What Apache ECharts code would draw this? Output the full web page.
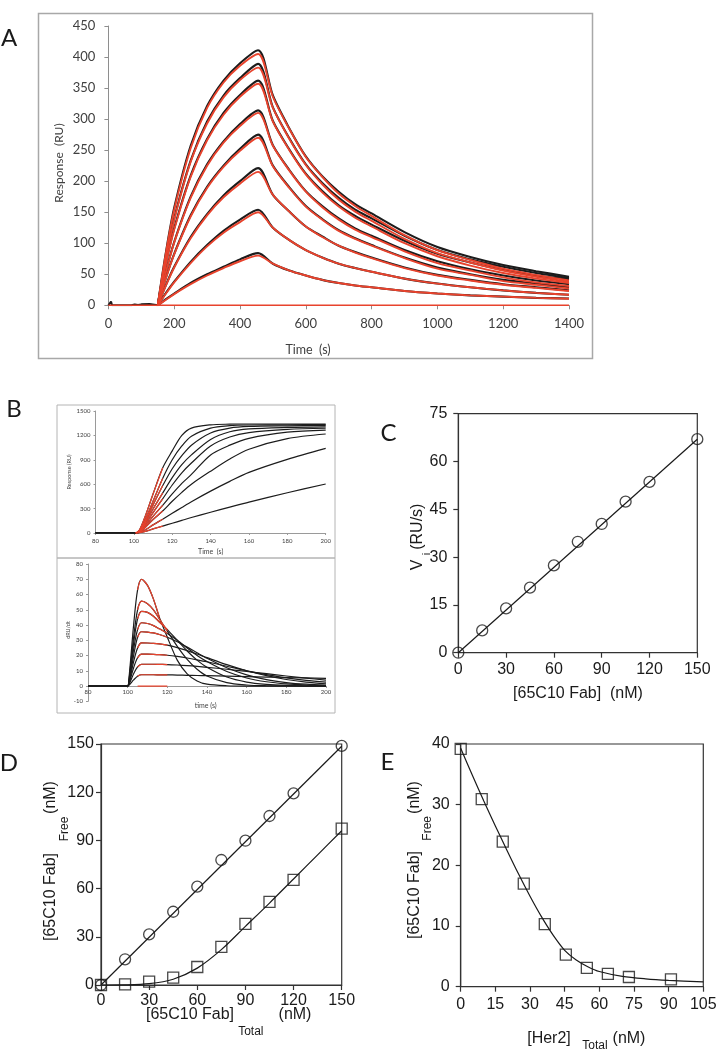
<!DOCTYPE html>
<html><head><meta charset="utf-8">
<script src="https://cdn.jsdelivr.net/npm/echarts@6/dist/echarts.min.js"></script>
<style>html,body{margin:0;padding:0;background:#fff}#c{width:717px;height:1050px}</style>
</head><body><div id="c"></div>
<script>
// ================= DATA =================
// ---- Panel A (SPR sensorgrams) ----
const aXTicks = [0, 200, 400, 600, 800, 1000, 1200, 1400];
const aYTicks = [0, 50, 100, 150, 200, 250, 300, 350, 400, 450];
const aBaseT = [0, 5, 8, 11, 70, 80, 90, 100, 125, 130, 150];
const aBaseV = [0, 0, 6, 0, 0, 1.5, 0.5, 1.5, 2, 0.5, 0];
const aBlankT = [0, 1400];
const aBlankV = [0, 0];
const aAssocT = [150, 175, 200, 250, 300, 350, 400, 455];
const aDissocT = [455, 500, 550, 600, 650, 700, 750, 800, 900, 1000, 1100, 1200, 1300, 1400];
// fitted curves (red)
const aFitAssoc1 = [0, 85, 154, 253, 318, 359, 386, 405];
const aFitAssoc2 = [0, 76, 138, 231, 293, 335, 363, 383];
const aFitAssoc3 = [0, 67, 122, 207, 266, 307, 336, 357];
const aFitAssoc4 = [0, 54, 101, 173, 225, 262, 289, 310];
const aFitAssoc5 = [0, 44, 82, 143, 189, 223, 249, 270];
const aFitAssoc6 = [0, 32, 61, 108, 145, 174, 196, 215];
const aFitAssoc7 = [0, 19, 37, 68, 95, 117, 134, 150];
const aFitAssoc8 = [0, 9, 18, 34, 48, 60, 71, 80];
const aFitDiss1 = [405, 336, 284, 239, 207, 180, 160, 144, 113, 89, 73, 59, 49, 40];
const aFitDiss2 = [383, 318, 268, 226, 195, 170, 151, 136, 107, 84, 69, 56, 46, 38];
const aFitDiss3 = [357, 296, 250, 211, 182, 159, 141, 127, 100, 79, 64, 52, 43, 36];
const aFitDiss4 = [310, 257, 217, 183, 158, 138, 122, 110, 87, 68, 56, 45, 37, 31];
const aFitDiss5 = [270, 224, 189, 159, 138, 120, 107, 96, 76, 59, 49, 39, 33, 27];
const aFitDiss6 = [215, 178, 151, 127, 110, 96, 85, 76, 60, 48, 40, 33, 28, 23];
const aFitDiss7 = [150, 125, 105, 89, 77, 67, 60, 54, 43, 35, 29, 24, 20, 17];
const aFitDiss8 = [80, 67, 56, 48, 41, 36, 32, 29, 23, 19, 16, 14, 12, 10.5];
// measured curves (black)
const aObsAssoc1 = [0, 86, 157, 257, 321, 362, 390, 411];
const aObsAssoc2 = [0, 77, 140, 233, 296, 338, 366, 389];
const aObsAssoc3 = [0, 68, 124, 209, 268, 310, 339, 362];
const aObsAssoc4 = [0, 55, 102, 175, 227, 264, 292, 314];
const aObsAssoc5 = [0, 45, 83, 145, 191, 225, 252, 275];
const aObsAssoc6 = [0, 33, 62, 110, 147, 177, 200, 221];
const aObsAssoc7 = [0, 20, 38, 70, 97, 120, 138, 154];
const aObsAssoc8 = [0, 10, 19, 36, 50, 62, 74, 84];
const aObsDiss1 = [411, 338, 285, 240, 208, 183, 163, 148, 118, 94, 78, 65, 55, 46];
const aObsDiss2 = [389, 319, 269, 227, 197, 173, 154, 140, 112, 89, 74, 62, 52, 44];
const aObsDiss3 = [362, 297, 251, 212, 184, 161, 144, 130, 104, 83, 69, 57, 48, 42];
const aObsDiss4 = [314, 258, 218, 184, 160, 140, 124, 112, 89, 71, 58, 48, 40, 34];
const aObsDiss5 = [275, 225, 190, 160, 139, 121, 108, 97, 77, 61, 50, 41, 35, 29];
const aObsDiss6 = [221, 178, 151, 127, 111, 96, 86, 77, 61, 49, 41, 34, 29, 24];
const aObsDiss7 = [154, 125, 105, 89, 77, 67, 60, 54, 43, 35, 29, 24, 20, 17];
const aObsDiss8 = [84, 67, 56, 48, 41, 36, 32, 29, 23, 19, 16, 14, 12, 11];

// ---- Panel B top (Response vs time) ----
const bXTicks = [80, 100, 120, 140, 160, 180, 200];
const bTopYTicks = [0, 300, 600, 900, 1200, 1500];
const bTopT = [80, 101, 103, 106, 110, 115, 120, 125, 130, 140, 150, 160, 180, 200];
const bTop1 = [0, 0, 40, 210, 480, 800, 1010, 1200, 1290, 1330, 1338, 1340, 1340, 1340];
const bTop2 = [0, 0, 30, 165, 390, 670, 900, 1070, 1190, 1290, 1320, 1328, 1331, 1332];
const bTop3 = [0, 0, 25, 145, 345, 580, 790, 950, 1080, 1230, 1290, 1310, 1318, 1322];
const bTop4 = [0, 0, 20, 125, 295, 490, 680, 840, 960, 1150, 1245, 1280, 1298, 1305];
const bTop5 = [0, 0, 16, 105, 250, 420, 590, 740, 860, 1070, 1180, 1235, 1275, 1288];
const bTop6 = [0, 0, 12, 85, 205, 340, 480, 610, 720, 960, 1080, 1164, 1240, 1266];
const bTop7 = [0, 0, 10, 70, 165, 270, 390, 500, 600, 760, 910, 1030, 1160, 1217];
const bTop8 = [0, 0, 6, 40, 100, 170, 242, 314, 385, 515, 635, 745, 905, 1040];
const bTop9 = [0, 0, 3, 20, 50, 85, 120, 155, 190, 255, 318, 380, 495, 602];
const bTopRedT = [101, 115];

// ---- Panel B bottom (dRU/dt vs time) ----
const bBotYTicks = [-10, 0, 10, 20, 30, 40, 50, 60, 70, 80];
const bBotT = [80, 99, 100, 101, 103, 105, 107, 110, 113, 116, 120, 125, 130, 135, 140, 150, 160, 170, 180, 190, 200];
const bBot1 = [0, 0, 0, 10, 40, 63, 70, 66, 57, 45, 32, 17, 8, 3.3, 1.2, 0.2, 0, 0, 0, 0, 0];
const bBot2 = [0, 0, 0, 8, 32, 50, 55.6, 54, 50, 44, 36, 26, 17.5, 11, 6.6, 2.2, 0.7, 0.2, 0.05, 0, 0];
const bBot3 = [0, 0, 0, 7, 28, 44, 49, 48.3, 45.8, 42, 37, 30, 23, 17, 12.3, 5.9, 2.6, 1.1, 0.4, 0.15, 0.05];
const bBot4 = [0, 0, 0, 6, 24, 37, 41.5, 41, 39.6, 37.5, 34.5, 30, 25, 20, 16, 9.5, 5.3, 2.8, 1.4, 0.7, 0.3];
const bBot5 = [0, 0, 0, 5, 20, 32, 35.6, 35.4, 34.8, 33.8, 32, 29, 25.5, 21.8, 18.2, 12, 7.3, 4.2, 2.3, 1.2, 0.65];
const bBot6 = [0, 0, 0, 4, 16, 25, 28.3, 28.2, 28, 27.6, 26.8, 25.2, 23.2, 21, 18.6, 14, 10, 6.8, 4.3, 2.6, 1.5];
const bBot7 = [0, 0, 0, 3, 12, 18.5, 20.9, 20.9, 20.8, 20.6, 20.2, 19.4, 18.4, 17.2, 15.9, 13, 10, 7.5, 5.3, 3.7, 2.6];
const bBot8 = [0, 0, 0, 2, 8, 12.5, 14.3, 14.3, 14.3, 14.2, 14.1, 13.8, 13.4, 12.9, 12.3, 11, 9.6, 8.1, 6.6, 5.2, 3.9];
const bBot9 = [0, 0, 0, 1, 4, 6.5, 7.4, 7.4, 7.4, 7.35, 7.3, 7.2, 7.0, 6.9, 6.8, 6.5, 6.2, 5.9, 5.6, 5.3, 5.0];
const bBotRedStart = 105;
const bBotRedEnd = [116, 120, 120, 120, 120, 120, 120, 120, 120];
const bBotZeroT = [105, 120];
const bBotZeroV = [0, 0];

// ---- Panel C ----
const cXTicks = [0, 30, 60, 90, 120, 150];
const cYTicks = [0, 15, 30, 45, 60, 75];
const cConc = [0, 15, 30, 45, 60, 75, 90, 105, 120, 150];
const cVi = [0, 7.0, 13.9, 20.4, 27.4, 34.8, 40.4, 47.4, 53.6, 67.0];
const cFitX = [0, 150];
const cFitY = [0, 67.0];

// ---- Panel D ----
const dXTicks = [0, 30, 60, 90, 120, 150];
const dYTicks = [0, 30, 60, 90, 120, 150];
const dTotal = [0, 15, 30, 45, 60, 75, 90, 105, 120, 150];
const dFreeCircle = [0, 16.0, 31.5, 45.6, 61.2, 77.8, 89.8, 105.2, 119.3, 148.8];
const dFreeSquare = [0, 0.4, 2.1, 4.6, 11.2, 23.7, 38.0, 51.7, 65.4, 97.3];
const dFitCircX = [0, 150];
const dFitCircY = [0, 148.6];
const dFitSqX = [0, 15, 30, 45, 60, 75, 90, 105, 120, 135, 150];
const dFitSqY = [0, 0.1, 0.8, 3.6, 10.5, 22, 36.5, 51, 66, 81, 96];

// ---- Panel E ----
const eXTicks = [0, 15, 30, 45, 60, 75, 90, 105];
const eYTicks = [0, 10, 20, 30, 40];
const eHer2 = [0, 9.1, 18.2, 27.3, 36.4, 45.5, 54.6, 63.7, 72.8, 91];
const eFree = [39.2, 30.9, 23.9, 17.0, 10.3, 5.3, 3.1, 2.1, 1.6, 1.2];
const eFitX = [0, 5, 10, 15, 20, 25, 30, 35, 40, 45, 50, 55, 60, 70, 80, 90, 105];
const eFitY = [39.3, 34.9, 30.6, 26.5, 22.5, 18.6, 14.9, 11.5, 8.5, 6.0, 4.4, 3.3, 2.5, 1.7, 1.3, 1.05, 0.8];

// ================= BUILD =================
const RED = '#e8432d', BLK = '#1c1c1c';
function pts(xs, ys) { return xs.map((x, i) => [x, ys[i]]); }
function rng(t) { return { min: t[0], max: t[t.length - 1], interval: t[1] - t[0] }; }
const plain = v => String(v);

const gridBase = { outerBoundsMode: 'none', containLabel: false };
const boxed = { show: true, borderColor: '#333', borderWidth: 1.2, backgroundColor: 'transparent' };
const grid = [
  Object.assign({}, gridBase, { left: 108.4, top: 26, width: 460.6, height: 279.3 }),
  Object.assign({}, gridBase, { left: 95.5, top: 411, width: 230.2, height: 122 }),
  Object.assign({}, gridBase, { left: 88, top: 564, width: 238, height: 137.3 }),
  Object.assign({}, gridBase, boxed, { left: 458.3, top: 413.7, width: 239, height: 239 }),
  Object.assign({}, gridBase, boxed, { left: 101, top: 744, width: 240.7, height: 241 }),
  Object.assign({}, gridBase, boxed, { left: 460.7, top: 744, width: 242.6, height: 242.7 })
];

function xlAxis(gi, ticks, fs, lineColor, margin, tickLen, extra) {
  return Object.assign({
    gridIndex: gi, type: 'value', ...rng(ticks),
    axisLine: { show: true, onZero: false, lineStyle: { color: lineColor, width: 1 } },
    axisTick: { show: true, inside: false, length: tickLen, lineStyle: { color: lineColor, width: 1 } },
    axisLabel: { color: '#404040', fontSize: fs, fontFamily: 'Lato, sans-serif', margin: margin, formatter: plain },
    splitLine: { show: false }
  }, extra || {});
}
function sciAxis(gi, ticks, margin) {
  return {
    gridIndex: gi, type: 'value', ...rng(ticks),
    axisLine: { show: true, onZero: false, lineStyle: { color: '#333', width: 1.2 } },
    axisTick: { show: true, inside: false, length: 5, lineStyle: { color: '#333', width: 1.2 } },
    axisLabel: { color: '#1a1a1a', fontSize: 16, fontFamily: 'Liberation Sans, Arial, sans-serif', margin: margin, formatter: plain },
    splitLine: { show: false }
  };
}

// bottom B panel: x axis sits at y = 0 (offset upward by the -10..0 band)
const bBotZeroOffset = -137.3 * (0 - bBotYTicks[0]) / (bBotYTicks[bBotYTicks.length - 1] - bBotYTicks[0]);

const xAxis = [
  xlAxis(0, aXTicks, 13, '#8e8e8e', 12, 4),
  xlAxis(1, bXTicks, 6, '#9a9a9a', 5, 2),
  xlAxis(2, bXTicks, 6, '#9a9a9a', 3, 2, { position: 'bottom', offset: bBotZeroOffset }),
  sciAxis(3, cXTicks, 9),
  sciAxis(4, dXTicks, 8),
  sciAxis(5, eXTicks, 10)
];
const yAxis = [
  xlAxis(0, aYTicks, 13, '#8e8e8e', 13, 4),
  xlAxis(1, bTopYTicks, 6, '#9a9a9a', 5, 2),
  xlAxis(2, bBotYTicks, 6, '#9a9a9a', 5, 2),
  sciAxis(3, cYTicks, 11),
  sciAxis(4, dYTicks, 7),
  sciAxis(5, eYTicks, 11)
];

const series = [];
function line(gi, data, color, width, z, smooth) {
  series.push({
    type: 'line', xAxisIndex: gi, yAxisIndex: gi, data: data, showSymbol: false, symbol: 'none',
    smooth: smooth === undefined ? 0.3 : smooth, lineStyle: { color: color, width: width }, z: z,
    silent: true, animation: false
  });
}
function scatter(gi, data, symbol) {
  series.push({
    type: 'scatter', xAxisIndex: gi, yAxisIndex: gi, data: data, symbol: symbol, symbolSize: 11,
    itemStyle: { color: 'rgba(0,0,0,0)', borderColor: '#1a1a1a', borderWidth: 1.3 }, z: 5,
    silent: true, animation: false
  });
}

// Panel A
const aObsA = [aObsAssoc1, aObsAssoc2, aObsAssoc3, aObsAssoc4, aObsAssoc5, aObsAssoc6, aObsAssoc7, aObsAssoc8];
const aObsD = [aObsDiss1, aObsDiss2, aObsDiss3, aObsDiss4, aObsDiss5, aObsDiss6, aObsDiss7, aObsDiss8];
const aFitA = [aFitAssoc1, aFitAssoc2, aFitAssoc3, aFitAssoc4, aFitAssoc5, aFitAssoc6, aFitAssoc7, aFitAssoc8];
const aFitD = [aFitDiss1, aFitDiss2, aFitDiss3, aFitDiss4, aFitDiss5, aFitDiss6, aFitDiss7, aFitDiss8];
line(0, pts(aBaseT, aBaseV), BLK, 2, 2, false);
for (let i = 0; i < 8; i++) line(0, pts(aAssocT, aObsA[i]).concat(pts(aDissocT, aObsD[i])), BLK, 2.1, 2);
for (let i = 0; i < 8; i++) line(0, pts(aAssocT, aFitA[i]).concat(pts(aDissocT, aFitD[i])), RED, 1.9, 3);
line(0, pts(aBlankT, aBlankV), RED, 1.6, 4, false);

// Panel B top
const bTops = [bTop1, bTop2, bTop3, bTop4, bTop5, bTop6, bTop7, bTop8, bTop9];
bTops.forEach(v => line(1, pts(bTopT, v), BLK, 1.2, 2));
bTops.forEach(v => line(1, pts(bTopT, v).filter(p => p[0] >= bTopRedT[0] && p[0] <= bTopRedT[1]), RED, 1.2, 3));
// Panel B bottom
const bBots = [bBot1, bBot2, bBot3, bBot4, bBot5, bBot6, bBot7, bBot8, bBot9];
bBots.forEach(v => line(2, pts(bBotT, v), BLK, 1.2, 2));
bBots.forEach((v, i) => line(2, pts(bBotT, v).filter(p => p[0] >= bBotRedStart && p[0] <= bBotRedEnd[i]), RED, 1.2, 3));
line(2, pts(bBotZeroT, bBotZeroV), RED, 1.2, 3, false);

// Panel C
line(3, pts(cFitX, cFitY), '#1a1a1a', 1.2, 3, false);
scatter(3, pts(cConc, cVi), 'circle');
// Panel D
line(4, pts(dFitCircX, dFitCircY), '#1a1a1a', 1.2, 3, false);
line(4, pts(dFitSqX, dFitSqY), '#1a1a1a', 1.2, 3, 0.3);
scatter(4, pts(dTotal, dFreeCircle), 'circle');
scatter(4, pts(dTotal, dFreeSquare), 'rect');
// Panel E
line(5, pts(eFitX, eFitY), '#1a1a1a', 1.2, 3, 0.3);
scatter(5, pts(eHer2, eFree), 'rect');

// ---- text & frames ----
const SCI = 'Liberation Sans, Arial, sans-serif';
function txt(s, x, y, fs, opts) {
  opts = opts || {};
  return {
    type: 'text', x: x, y: y, rotation: opts.rot ? Math.PI / 2 : 0, z: 10, silent: true,
    style: { text: s, fontSize: fs, fontFamily: opts.font || SCI, fill: opts.fill || '#1a1a1a',
      align: 'center', verticalAlign: 'middle' }
  };
}
function frame(x, y, w, h, color, lw) {
  return { type: 'rect', silent: true, z: 0, shape: { x: x, y: y, width: w, height: h },
    style: { fill: 'none', stroke: color, lineWidth: lw } };
}
const LET = 'Lato, sans-serif';
const XL = 'Lato, sans-serif';
const graphic = [
  frame(38.5, 13.5, 554, 345, '#a8a8a8', 1.5),
  frame(57, 405, 278, 153, '#b4b4b4', 1),
  frame(57, 558, 278, 155, '#b4b4b4', 1),
  txt('A', 9, 38, 24, { font: LET }),
  txt('B', 14, 409, 24, { font: LET }),
  txt('C', 388.5, 433, 24, { font: LET }),
  txt('D', 9, 763, 24, { font: LET }),
  txt('E', 387.5, 762, 24, { font: LET }),
  txt('Response  (RU)', 59.5, 163, 12, { rot: true, font: XL, fill: '#404040' }),
  txt('Time  (s)', 308, 350, 12.5, { font: XL, fill: '#404040' }),
  txt('Response (RU)', 69.5, 472, 5.5, { rot: true, font: XL, fill: '#444' }),
  txt('Time  (s)', 210.7, 552, 7, { font: XL, fill: '#444' }),
  txt('dRU/dt', 68, 630, 5.5, { rot: true, font: XL, fill: '#444' }),
  txt('time (s)', 205.7, 706, 7, { font: XL, fill: '#444' }),
  // C
  txt('V', 417.3, 565, 16, { rot: true }),
  txt('i', 426.5, 554, 11, { rot: true }),
  txt('(RU/s)', 417.3, 526.7, 16, { rot: true }),
  txt('[65C10 Fab]  (nM)', 578, 693.3, 16),
  // D
  txt('[65C10 Fab]', 50.7, 897, 16, { rot: true }),
  txt('Free', 64.5, 829, 12, { rot: true }),
  txt('(nM)', 50.7, 797.5, 16, { rot: true }),
  txt('[65C10 Fab]', 190, 1015, 16),
  txt('Total', 250.8, 1031.7, 12),
  txt('(nM)', 295, 1015, 16),
  // E
  txt('[65C10 Fab]', 415, 895, 16, { rot: true }),
  txt('Free', 428, 828.3, 12, { rot: true }),
  txt('(nM)', 415, 797.5, 16, { rot: true }),
  txt('[Her2]', 549, 1038.3, 16),
  txt('Total', 595, 1046, 12),
  txt('(nM)', 629, 1038.3, 16)
];

const chart = echarts.init(document.getElementById('c'), null, { renderer: 'canvas', width: 717, height: 1050 });
chart.setOption({
  animation: false,
  backgroundColor: '#ffffff',
  grid: grid, xAxis: xAxis, yAxis: yAxis, series: series, graphic: graphic
});
</script>
</body></html>
